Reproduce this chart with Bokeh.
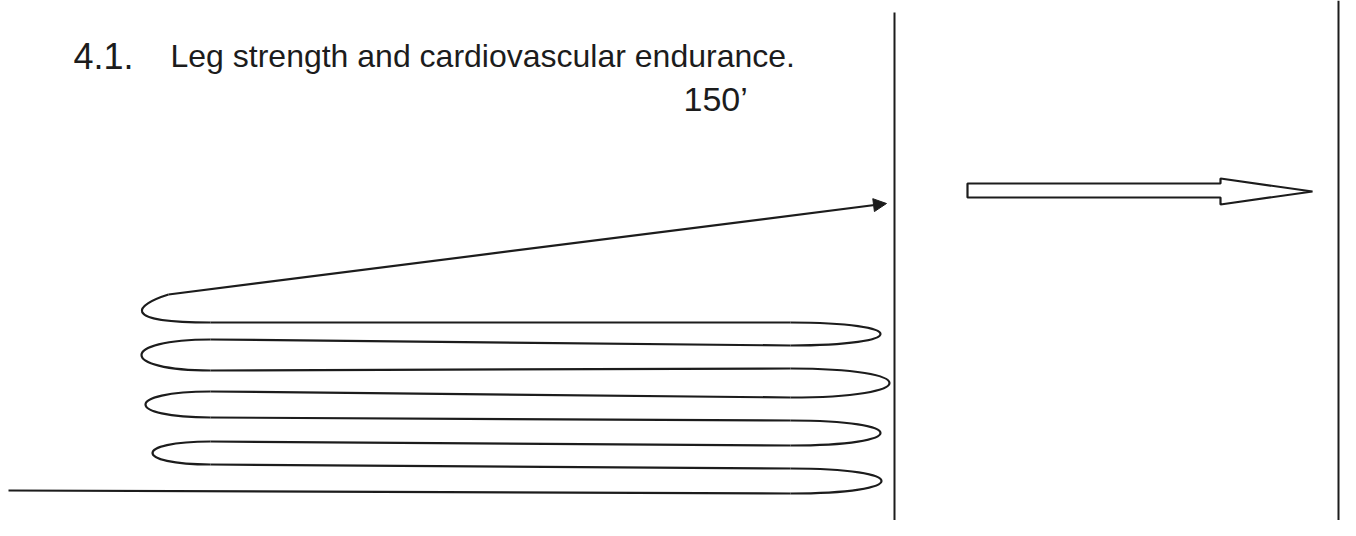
from bokeh.plotting import figure
from bokeh.models import Range1d, Arrow, NormalHead
from bokeh.core.properties import value
from bokeh.embed import file_html
from bokeh.resources import INLINE

# ---- diagram content ----
title_number = "4.1."
title_text = "Leg strength and cardiovascular endurance."
distance_label = "150\u2019"

# serpentine laps: y of each straight run at its left / right end (px, top-down)
run_y_left = [322, 339, 370, 391, 417, 441, 464, 490]
run_y_right = [322, 345, 368, 397, 420, 445, 468, 493]
# x of the turning tips
left_tip_x = [138, 141, 145, 152]
right_tip_x = [880, 889, 880, 881]
# final sprint: start (kink) and end (arrow head)
sprint_start = (168, 294)
sprint_end = (886, 203)
# hollow arrow outline on the right panel
hollow_x = [967, 1220, 1220, 1312, 1220, 1220, 967]
hollow_y = [183, 183, 178, 191, 204, 197, 197]
# divider lines
divider_x = [894, 1338]
divider_top = [12, 0]

INK = "#1c1c1c"
LW = 2.2
XL, XR = 210, 790
W, H = 1340, 520

p = figure(width=W, height=H, output_backend="svg", toolbar_location=None,
           x_range=Range1d(0, W), y_range=Range1d(H, 0),
           x_axis_type=None, y_axis_type=None, min_border=0,
           background_fill_color="white", border_fill_color="white")
p.outline_line_color = None

# straight runs (last one is the ground line starting at the left edge)
x0 = [XL] * 7 + [8]
p.segment(x0=x0, y0=run_y_left, x1=[XR] * 8, y1=run_y_right,
          line_color=INK, line_width=LW)

# turns
bx0, by0, bx1, by1, cx0, cy0, cx1, cy1 = [], [], [], [], [], [], [], []
for k in range(4):
    a, b = 2 * k, 2 * k + 1
    cx = XR + (right_tip_x[k] - XR) / 0.75
    bx0.append(XR); by0.append(run_y_right[a])
    bx1.append(XR); by1.append(run_y_right[b])
    cx0.append(cx); cy0.append(run_y_right[a])
    cx1.append(cx); cy1.append(run_y_right[b])
for k in range(1, 4):
    a, b = 2 * k - 1, 2 * k
    cx = XL - (XL - left_tip_x[k]) / 0.75
    bx0.append(XL); by0.append(run_y_left[a])
    bx1.append(XL); by1.append(run_y_left[b])
    cx0.append(cx); cy0.append(run_y_left[a])
    cx1.append(cx); cy1.append(run_y_left[b])
# first left turn, rising into the sprint line
bx0.append(XL); by0.append(run_y_left[0])
bx1.append(sprint_start[0]); by1.append(sprint_start[1])
cx0.append(left_tip_x[0] - 22); cy0.append(run_y_left[0])
cx1.append(left_tip_x[0] - 2); cy1.append(sprint_start[1] + 10)

p.bezier(x0=bx0, y0=by0, x1=bx1, y1=by1, cx0=cx0, cy0=cy0, cx1=cx1, cy1=cy1,
         line_color=INK, line_width=LW)

# sprint line with arrow head
p.add_layout(Arrow(end=NormalHead(size=13, fill_color=INK, line_color=INK, line_width=1),
                   x_start=sprint_start[0], y_start=sprint_start[1],
                   x_end=sprint_end[0], y_end=sprint_end[1],
                   line_color=INK, line_width=LW))

# dividers
p.segment(x0=divider_x, y0=divider_top, x1=divider_x, y1=[H] * 2,
          line_color=INK, line_width=2)

# hollow arrow
p.patch(hollow_x, hollow_y, fill_color="white", line_color=INK, line_width=2.2)

# texts (svg text sits ~12px below the given y)
font = value("Liberation Sans")
p.text(x=[73], y=[55], text=[title_number], text_font=font, text_font_size="36px",
       text_color=INK, text_baseline="alphabetic")
p.text(x=[170], y=[55], text=[title_text], text_font=font, text_font_size="32px",
       text_color=INK, text_baseline="alphabetic")
p.text(x=[683], y=[98], text=[distance_label], text_font=font, text_font_size="34px",
       text_color=INK, text_baseline="alphabetic")

open("out.html", "w").write(file_html(p, INLINE))
